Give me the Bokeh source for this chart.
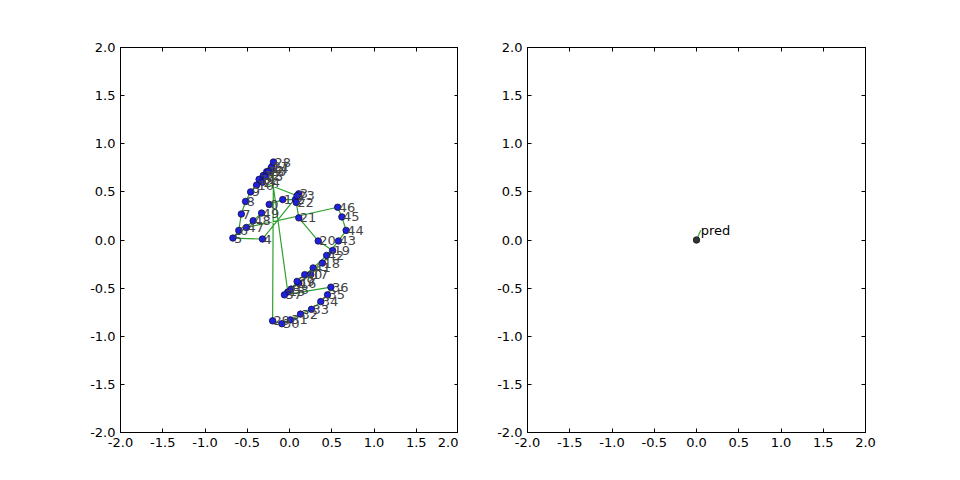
from bokeh.plotting import figure
from bokeh.models import Range1d, LinearAxis, FixedTicker, PrintfTickFormatter, ColumnDataSource
from bokeh.layouts import row
from bokeh.embed import file_html
from bokeh.resources import INLINE
from bokeh.core.properties import value

# ---- data ----
traj_x = [-0.24, -0.08, 0.07, 0.11, -0.32, -0.67, -0.60, -0.57, -0.52, -0.46,
          -0.39, -0.36, -0.31, -0.27, -0.22, -0.02, 0.11, 0.25, 0.39, 0.51,
          0.34, 0.11, 0.08, 0.09, -0.32, -0.28, -0.25, -0.21, -0.19, -0.20,
          -0.09, 0.01, 0.13, 0.26, 0.37, 0.45, 0.49, -0.06, 0.02, 0.09,
          0.18, 0.28, 0.44, 0.58, 0.67, 0.62, 0.57, -0.51, -0.43, -0.33]
traj_y = [0.37, 0.42, 0.42, 0.48, 0.01, 0.02, 0.10, 0.27, 0.40, 0.50,
          0.57, 0.63, 0.67, 0.71, 0.74, -0.54, -0.45, -0.36, -0.24, -0.11,
          -0.01, 0.23, 0.39, 0.46, 0.60, 0.66, 0.71, 0.76, 0.81, -0.84,
          -0.87, -0.83, -0.77, -0.72, -0.64, -0.57, -0.49, -0.57, -0.51, -0.43,
          -0.36, -0.29, -0.16, -0.01, 0.10, 0.24, 0.34, 0.13, 0.20, 0.28]
traj_labels = [str(i) for i in range(len(traj_x))]

pred_x = [0.0, 0.05]
pred_y = [0.0, 0.10]
pred_label = "pred"

ticks = [-2.0, -1.5, -1.0, -0.5, 0.0, 0.5, 1.0, 1.5, 2.0]
axis_min, axis_max = -2.0, 2.0

FONT = "DejaVu Sans"
LINE_GREEN = "#2ca02c"


def make_fig(border_left, border_right):
    p = figure(frame_width=338, frame_height=385,
               x_range=Range1d(axis_min, axis_max), y_range=Range1d(axis_min, axis_max),
               output_backend="svg", toolbar_location=None,
               min_border_left=border_left, min_border_right=border_right,
               min_border_top=47, min_border_bottom=40)
    p.grid.visible = False
    p.outline_line_color = "black"
    p.outline_line_width = 1
    p.background_fill_color = "white"
    p.border_fill_color = "white"
    for ax in list(p.xaxis) + list(p.yaxis):
        ax.ticker = FixedTicker(ticks=ticks)
        ax.formatter = PrintfTickFormatter(format="%.1f")
        ax.major_tick_in = 4
        ax.major_tick_out = 0
        ax.minor_tick_line_color = None
        ax.major_label_text_font = FONT
        ax.major_label_text_font_size = "13px"
        ax.major_label_text_color = "black"
        ax.major_label_standoff = 5
        ax.axis_line_color = "black"
    for loc in ("above", "right"):
        ax = LinearAxis(ticker=FixedTicker(ticks=ticks), major_tick_in=4, major_tick_out=0,
                        minor_tick_line_color=None, major_label_text_color=None,
                        major_label_standoff=0)
        p.add_layout(ax, loc)
    return p


# ---- left panel: trajectory ----
p1 = make_fig(120, 0)
src = ColumnDataSource(dict(x=traj_x, y=traj_y, t=traj_labels))
p1.line("x", "y", source=src, line_color=LINE_GREEN, line_width=1.2)
p1.scatter("x", "y", source=src, size=6.5, fill_color="#2020e0", line_color="#101040", line_width=0.8)
p1.text("x", "y", text="t", source=src, text_font=value(FONT), text_font_size="13px",
        text_color="#444444", text_align="left", text_baseline="alphabetic", x_offset=1)

# ---- right panel: prediction ----
p2 = make_fig(69, 88)
p2.line(pred_x, pred_y, line_color=LINE_GREEN, line_width=1.2)
p2.scatter([pred_x[0]], [pred_y[0]], size=6.5, fill_color="#333333", line_color="#111111", line_width=0.8)
p2.text([pred_x[-1]], [pred_y[-1]], text=[pred_label], text_font=value(FONT), text_font_size="13px",
        text_color="black", text_align="left", text_baseline="alphabetic")

layout = row(p1, p2)
open("out.html", "w").write(file_html(layout, INLINE))
